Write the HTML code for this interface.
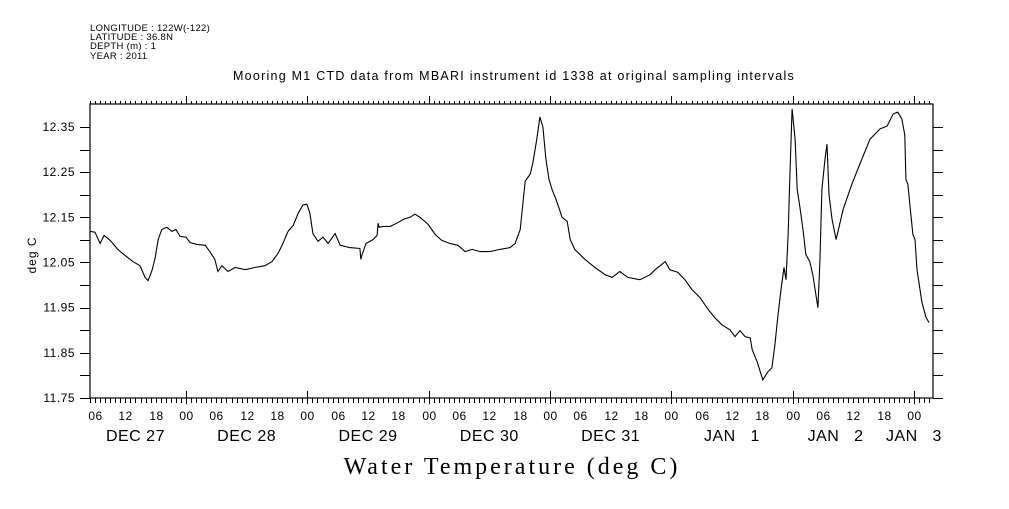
<!DOCTYPE html>
<html><head><meta charset="utf-8"><style>
body{margin:0;background:#fff;}
svg text{font-family:"Liberation Sans",sans-serif;fill:#000;white-space:pre;}
</style></head><body>
<svg id="chart" width="1009" height="504" xmlns="http://www.w3.org/2000/svg">
<g>
<text x="90" y="31" style="font-size:9.5px;letter-spacing:0.3px">LONGITUDE : 122W(-122)</text>
<text x="90" y="40" style="font-size:9.5px;letter-spacing:0.3px">LATITUDE : 36.8N</text>
<text x="90" y="49" style="font-size:9.5px;letter-spacing:0.3px">DEPTH (m) : 1</text>
<text x="90" y="59" style="font-size:9.5px;letter-spacing:0.3px">YEAR : 2011</text>
</g>
<text x="514" y="80" text-anchor="middle" style="font-size:12.5px;letter-spacing:1.25px">Mooring M1 CTD data from MBARI instrument id 1338 at original sampling intervals</text>
<text x="512" y="474" text-anchor="middle" style="font-family:'Liberation Serif',serif;font-size:24px;letter-spacing:3px">Water Temperature (deg C)</text>
<text transform="translate(36,255) rotate(-90)" text-anchor="middle" style="font-size:12px;letter-spacing:1px">deg C</text>
<rect x="90" y="104" width="843" height="294" fill="none" stroke="#000" stroke-width="1.2"/>
<g id="axes"></g>
<path id="series" fill="none" stroke="#000" stroke-width="1.1"/>
</svg>
<script>
// hours since DEC 27 00:00
const hours=[5.0,6.0,7.0,7.8,9.0,10.5,11.9,13.5,14.9,15.9,16.5,16.9,17.3,17.9,18.5,19.2,20.2,21.2,22.0,22.8,24.0,24.8,26.2,27.8,28.7,29.7,30.3,31.1,32.3,33.7,35.7,37.6,39.6,41.0,42.2,43.0,44.2,45.2,46.2,47.1,47.9,48.5,49.1,50.1,51.1,52.1,53.5,54.5,56.4,58.4,58.6,58.8,59.6,61.0,61.8,62.0,62.2,63.0,64.4,65.7,67.1,68.3,69.3,70.3,71.9,73.3,74.6,76.2,77.8,79.2,80.6,82.2,84.1,86.1,88.1,89.1,90.1,91.1,92.1,92.6,93.4,94.0,94.6,95.2,95.8,96.4,97.2,98.4,99.4,100.0,100.9,102.9,104.9,106.9,108.3,109.8,111.4,113.8,115.8,116.8,117.8,118.8,119.7,121.3,122.7,124.1,125.7,127.3,128.6,130.0,131.6,132.6,133.6,134.6,135.6,136.0,137.0,138.1,139.1,139.9,140.5,141.1,141.7,142.3,142.7,143.1,143.5,143.9,144.5,144.9,145.5,146.1,146.6,147.4,148.0,149.0,149.4,149.8,150.4,150.8,151.2,151.8,152.6,154.0,155.7,157.3,159.3,161.3,162.7,163.9,164.8,165.6,166.2,166.4,166.8,167.2,167.8,168.2,168.6,169.2,169.6,170.4,171.0];
const temps=[12.119,12.117,12.092,12.110,12.099,12.079,12.066,12.052,12.043,12.017,12.010,12.021,12.034,12.061,12.101,12.123,12.128,12.119,12.123,12.108,12.106,12.094,12.090,12.088,12.074,12.057,12.030,12.043,12.030,12.039,12.034,12.039,12.043,12.052,12.070,12.088,12.119,12.132,12.159,12.177,12.179,12.159,12.114,12.097,12.106,12.092,12.114,12.088,12.083,12.081,12.057,12.066,12.092,12.101,12.110,12.137,12.128,12.130,12.130,12.137,12.146,12.150,12.157,12.150,12.134,12.112,12.099,12.092,12.088,12.074,12.079,12.074,12.074,12.079,12.083,12.092,12.123,12.230,12.246,12.270,12.323,12.372,12.350,12.279,12.234,12.212,12.190,12.150,12.141,12.101,12.079,12.057,12.039,12.023,12.017,12.030,12.017,12.012,12.023,12.034,12.043,12.052,12.034,12.028,12.012,11.990,11.972,11.946,11.928,11.912,11.901,11.886,11.899,11.886,11.883,11.857,11.830,11.790,11.808,11.817,11.868,11.934,11.990,12.039,12.012,12.110,12.257,12.390,12.323,12.212,12.168,12.119,12.068,12.052,12.023,11.950,12.052,12.212,12.279,12.312,12.201,12.146,12.101,12.168,12.223,12.268,12.323,12.346,12.352,12.379,12.383,12.368,12.332,12.234,12.223,12.177,12.112,12.101,12.034,11.990,11.961,11.928,11.917];
const yTickLabels=["11.75","11.85","11.95","12.05","12.15","12.25","12.35"];
const dayLabels=["DEC 27","DEC 28","DEC 29","DEC 30","DEC 31","JAN   1","JAN   2","JAN   3"];
const dayLabelHours=[14,36,60,84,108,132,152.5,168];

const X0=64.7, PXH=5.055, Y0=398, PXV=451.7, VMIN=11.75;
function xs(h){return X0+h*PXH;}
function ys(v){return Y0-(v-VMIN)*PXV;}
const NS="http://www.w3.org/2000/svg";
const ax=document.getElementById('axes');
function line(x1,y1,x2,y2,name){const l=document.createElementNS(NS,'line');
l.setAttribute('x1',x1);l.setAttribute('y1',y1);l.setAttribute('x2',x2);l.setAttribute('y2',y2);
l.setAttribute('stroke','#000');l.setAttribute('stroke-width','1');


ax.appendChild(l);}
function text(x,y,s,size,anchor,name,ls){const t=document.createElementNS(NS,'text');
t.setAttribute('x',x);t.setAttribute('y',y);t.setAttribute('text-anchor',anchor);
t.style.fontSize=size+'px';t.style.letterSpacing=(ls||0)+'px';t.textContent=s;


ax.appendChild(t);}
for(let i=0;i<=12;i++){const v=VMIN+i*0.05;const y=Math.round(ys(v))+0.5;
 line(80,y,90,y,'y-tick');line(933,y,943,y,'y-tick-right');}
yTickLabels.forEach(s=>{text(75,ys(parseFloat(s))+4,s,12,'end','y-tick-label',0.5);});
for(let h=5;h<=171;h++){const x=Math.round(xs(h))+0.5;if(x<90||x>933)continue;
 const major=h%24===0;
 line(x,104,x,major?96:101,'x-tick-top');
 line(x,398,x,major?391:403,'x-tick-bottom');
 if(major) line(x,398,x,404,'x-tick-bottom');
 if(h%6===0){const hh=h%24;text(x,420,(hh<10?'0':'')+hh,12,'middle','hour-label',0.5);}}
dayLabels.forEach((s,i)=>{text(xs(dayLabelHours[i]),441,s,16,'middle','day-label',0.5);});
let d='';hours.forEach((h,i)=>{d+=(i?'L':'M')+xs(h).toFixed(1)+' '+ys(temps[i]).toFixed(1);});
document.getElementById('series').setAttribute('d',d);
</script>
</body></html>
